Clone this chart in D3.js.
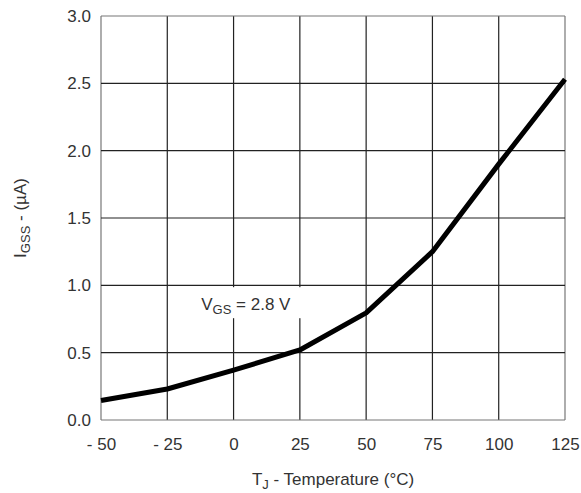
<!DOCTYPE html>
<html>
<head>
<meta charset="utf-8">
<script src="https://cdn.jsdelivr.net/npm/d3@7"></script>
<style>
  body { margin: 0; background: #fff; }
  text { font-family: "Liberation Sans", Arial, sans-serif; fill: #333; }
</style>
</head>
<body>
<script>
// chart values
var temps = [-50, -25, 0, 25, 50, 75, 100, 125];
var igss = [0.145, 0.23, 0.37, 0.52, 0.795, 1.25, 1.9, 2.53];
var xTicks = [-50, -25, 0, 25, 50, 75, 100, 125];
var yTicks = [0, 0.5, 1.0, 1.5, 2.0, 2.5, 3.0];

var width = 581;
var height = 493;

var margin = { top: 16, right: 16, bottom: 73, left: 101 };
var chartWidth = width - margin.left - margin.right;
var chartHeight = height - margin.top - margin.bottom;

var svg = d3.select("body")
  .append("svg")
  .attr("width", width)
  .attr("height", height);

var chartGroup = svg.append("g")
  .attr("transform", `translate(${margin.left}, ${margin.top})`);

var xScale = d3.scaleLinear().domain([-50, 125]).range([0, chartWidth]);
var yScale = d3.scaleLinear().domain([0, 3]).range([chartHeight, 0]);

// grid
chartGroup.selectAll(".vgrid")
  .data(xTicks)
  .enter()
  .append("line")
  .attr("x1", d => xScale(d))
  .attr("x2", d => xScale(d))
  .attr("y1", 0)
  .attr("y2", chartHeight)
  .attr("stroke", d => (d === -50 || d === 125) ? "#777" : "#222")
  .attr("stroke-width", 1.2);

chartGroup.selectAll(".hgrid")
  .data(yTicks)
  .enter()
  .append("line")
  .attr("x1", 0)
  .attr("x2", chartWidth)
  .attr("y1", d => yScale(d))
  .attr("y2", d => yScale(d))
  .attr("stroke", d => (d === 0 || d === 3) ? "#777" : "#222")
  .attr("stroke-width", 1.2);

// tick labels
var xAxis = d3.axisBottom(xScale)
  .tickValues(xTicks)
  .tickSize(0)
  .tickPadding(18)
  .tickFormat(d => d < 0 ? "- " + Math.abs(d) : d);

var xg = chartGroup.append("g")
  .attr("transform", `translate(0, ${chartHeight})`)
  .call(xAxis);
xg.select(".domain").remove();
xg.selectAll("text")
  .style("font-size", "17px")
  .style("font-family", "Liberation Sans, Arial, sans-serif")
  .attr("fill", "#333");

var yAxis = d3.axisLeft(yScale)
  .tickValues(yTicks)
  .tickSize(0)
  .tickPadding(10)
  .tickFormat(d3.format(".1f"));

var yg = chartGroup.append("g").call(yAxis);
yg.select(".domain").remove();
yg.selectAll("text")
  .style("font-size", "17px")
  .style("font-family", "Liberation Sans, Arial, sans-serif")
  .attr("fill", "#333");

// annotation box
var label = chartGroup.append("g")
  .attr("transform", `translate(${xScale(-0.5)}, ${yScale(0.86)})`);
label.append("rect")
  .attr("x", -37)
  .attr("y", -17)
  .attr("width", 110)
  .attr("height", 31)
  .attr("fill", "#fff");
var lt = label.append("text")
  .attr("x", -31)
  .attr("y", 6)
  .style("font-size", "17px");
lt.append("tspan").text("V");
lt.append("tspan").attr("dy", 4).style("font-size", "13px").text("GS");
lt.append("tspan").attr("dy", -4).text(" = 2.8 V");

// curve
var line = d3.line()
  .x((d, i) => xScale(temps[i]))
  .y(d => yScale(d));

chartGroup.append("path")
  .datum(igss)
  .attr("d", line)
  .attr("fill", "none")
  .attr("stroke", "#000")
  .attr("stroke-width", 5)
  .attr("stroke-linejoin", "round");

// axis titles
var xt = svg.append("text")
  .attr("x", 333)
  .attr("y", 485)
  .attr("text-anchor", "middle")
  .style("font-size", "17px");
xt.append("tspan").text("T");
xt.append("tspan").attr("dy", 4).style("font-size", "13px").text("J");
xt.append("tspan").attr("dy", -4).text(" - Temperature (°C)");

var yt = svg.append("text")
  .attr("transform", "translate(26, 218) rotate(-90)")
  .attr("text-anchor", "middle")
  .style("font-size", "17px");
yt.append("tspan").text("I");
yt.append("tspan").attr("dy", 4).style("font-size", "13px").text("GSS");
yt.append("tspan").attr("dy", -4).text(" - (µA)");
</script>
</body>
</html>
